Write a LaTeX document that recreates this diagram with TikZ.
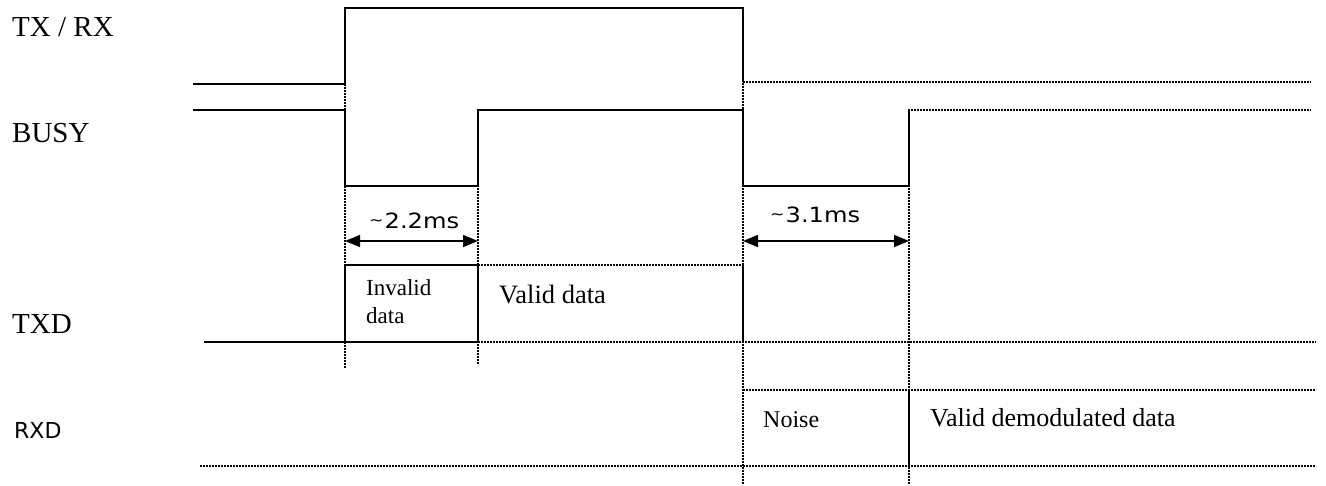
\documentclass[tikz,border=0pt]{standalone}
\usepackage{fontspec}
\setmainfont{Liberation Serif}
\newfontfamily\dejavu{DejaVu Sans}
\newfontfamily\dimfont[FakeStretch=1.15]{DejaVu Sans}
\usetikzlibrary{arrows.meta}
\tikzset{
  sig/.style={line width=1.5pt},
  dsig/.style={line width=1.4pt, dash pattern=on 2pt off 1pt},
  signame/.style={anchor=base west, inner sep=0pt, font=\fontsize{29}{29}\selectfont},
  field/.style={anchor=base west, inner sep=0pt, font=\fontsize{24}{27}\selectfont},
  dim/.style={line width=1.5pt, {Triangle[length=15pt,width=12pt]}-{Triangle[length=15pt,width=12pt]}},
  dimtext/.style={anchor=base west, inner sep=0pt, font=\dimfont\fontsize{21}{21}\selectfont}
}
\newcommand{\approxsign}{\raisebox{3pt}{\fontsize{15}{15}\selectfont\char`\~}\hspace{1pt}}
\begin{document}
\begin{tikzpicture}[x=1pt, y=-1pt]
            \useasboundingbox (0,0) rectangle (1326,485);
            % signal names
            \node[signame] (ntx) at (12,36) {TX / RX};
            \node[signame] (nbusy) at (12,142) {BUSY};
            \node[signame] (ntxd) at (12,333) {TXD};
            \node[anchor=base west, inner sep=0pt, font=\dejavu\fontsize{22}{22}\selectfont] (nrxd) at (14,438) {RXD};
            % time marks
            \draw[dsig] (345,84) -- (345,368);
            \draw[dsig] (478,137) -- (478,365);
            \draw[dsig] (743,8) -- (743,485);
            \draw[dsig] (909,110) -- (909,485);
            % TX / RX
            \draw[sig] (193,84) -- (345,84) -- (345,8) -- (743,8) -- (743,82);
            \draw[dsig] (743,82) -- (1311,82);
            % BUSY
            \draw[sig] (193,110) -- (345,110) -- (345,186) -- (478,186) -- (478,110) -- (743,110) -- (743,186) -- (909,186);
            \draw[dsig] (909,186) -- (909,110) -- (1311,110);
            % durations
            \coordinate (d1a) at (345,241);
            \coordinate (d1b) at (478,241);
            \coordinate (d2a) at (743,241);
            \coordinate (d2b) at (909,241);
            \draw[dim] (d1a) -- (d1b);
            \draw[dim] (d2a) -- (d2b);
            \node[dimtext] (t22) at (369,228) {\approxsign 2.2ms};
            \node[dimtext] (t31) at (770,222) {\approxsign 3.1ms};
            % TXD
            \draw[sig] (204,342) -- (478,342);
            \draw[sig] (345,342) -- (345,265) -- (478,265) -- (478,342);
            \draw[dsig] (478,265) -- (743,265);
            \draw[sig] (743,265) -- (743,342);
            \draw[dsig] (478,342) -- (1316,342);
            \node[field, font=\fontsize{23}{27}\selectfont] (inv) at (366,295) {Invalid};
            \node[field, font=\fontsize{23}{27}\selectfont] (invb) at (366,323) {data};
            \node[field, font=\fontsize{26.5}{27}\selectfont] (vd) at (499,303) {Valid data};
            % RXD
            \draw[dsig] (200,466) -- (1316,466);
            \draw[dsig] (743,390) -- (1316,390);
            \draw[sig] (909,390) -- (909,466);
            \node[field] (noise) at (763,427) {Noise};
            \node[field, font=\fontsize{26}{27}\selectfont] (vdd) at (930,426) {Valid demodulated data};
\end{tikzpicture}
\end{document}
